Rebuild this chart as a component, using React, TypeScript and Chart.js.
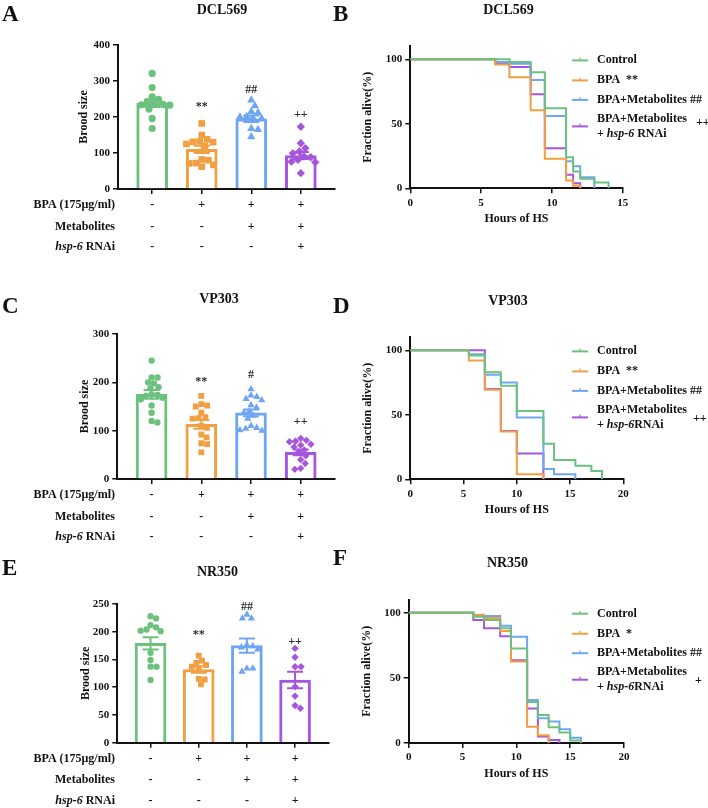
import React, { useEffect, useRef } from 'react';
import { Chart, registerables } from 'chart.js';
Chart.register(...registerables);

// ---------------- data ----------------
const GROUPS = ['Control', 'BPA', 'BPA+Metabolites', 'BPA+Metabolites+hsp-6 RNAi'];

// Panel A – DCL569 brood size
const A_CONTROL = [321, 282, 256, 249, 243, 236, 235, 234, 233, 222, 196, 168];
const A_BPA = [182, 150, 138, 132, 131, 130, 125, 120, 82, 80, 72, 71, 67, 62];
const A_MET = [247, 231, 215, 212, 201, 200, 196, 196, 168, 165, 145];
const A_RNAI = [173, 127, 113, 104, 99, 90, 88, 81, 76, 74, 44];
const A_MEAN = [238, 110, 195, 93];
const A_SEM = [10, 10, 9, 10];
const A_SIG = ['', '**', '##', '++'];
const A_SIG_Y = [0, 229, 275, 205];
const A_Y_TICKS = { max: 400, step: 100 };

// Panel C – VP303 brood size
const C_CONTROL = [245, 210, 210, 200, 198, 190, 188, 175, 174, 172, 168, 165, 152, 137, 120, 117];
const C_BPA = [172, 155, 152, 150, 137, 128, 126, 125, 110, 106, 92, 86, 74, 72, 55];
const C_MET = [186, 173, 170, 166, 163, 153, 148, 141, 137, 131, 125, 110, 106, 104, 101, 100];
const C_RNAI = [84, 80, 78, 77, 72, 70, 66, 60, 56, 48, 40, 32, 22, 20];
const C_MEAN = [175, 113, 137, 55];
const C_SEM = [9, 9, 7, 6];
const C_SIG = ['', '**', '#', '++'];
const C_SIG_Y = [0, 201, 215, 119];
const C_Y_TICKS = { max: 300, step: 100 };

// Panel E – NR350 brood size
const E_CONTROL = [228, 224, 212, 208, 204, 202, 201, 162, 149, 137, 137, 113];
const E_BPA = [157, 148, 144, 140, 137, 134, 115, 114, 105];
const E_MET = [231, 224, 224, 176, 174, 172, 168, 134, 134, 128];
const E_RNAI = [170, 154, 137, 137, 101, 84, 67, 62];
const E_MEAN = [179, 132, 175, 113];
const E_SEM = [11, 6, 13, 15];
const E_SIG = ['', '**', '##', '++'];
const E_SIG_Y = [0, 194, 244, 182];
const E_Y_TICKS = { max: 250, step: 50 };

const TREATMENT_LABELS = ['BPA (175μg/ml)', 'Metabolites', '_hsp-6_ RNAi'];
const TREATMENT_SIGNS = [
  ['-', '+', '+', '+'],
  ['-', '-', '+', '+'],
  ['-', '-', '-', '+'],
];

// Panel B – DCL569 survival (hours, % alive)
const B_X_MAX = 15;
const B_CONTROL_T = [0, 7, 8.5, 9.5, 11, 11.5, 12, 13, 14];
const B_CONTROL_S = [100, 98, 90, 62, 24, 13, 7.5, 4.5, 0];
const B_BPA_T = [0, 6, 7, 8.5, 9.5, 11, 11.5, 12];
const B_BPA_S = [100, 96, 86, 60.5, 23, 6, 2, 0];
const B_MET_T = [0, 6, 7, 8.5, 9.5, 11, 11.5, 12, 13];
const B_MET_S = [100, 98, 96.5, 84, 56, 21, 17, 8.5, 0];
const B_RNAI_T = [0, 6, 7, 8.5, 9.5, 11, 11.5, 12];
const B_RNAI_S = [100, 97, 94, 73, 31, 10.5, 4, 0];
const B_LEGEND = ['Control', 'BPA  **', 'BPA+Metabolites ##', 'BPA+Metabolites|+ _hsp-6_ RNAi'];
const B_LEGEND_SIG = '++';

// Panel D – VP303 survival
const D_X_MAX = 20;
const D_CONTROL_T = [0, 5.5, 7, 8.5, 10, 12.5, 13.5, 15.5, 17, 18];
const D_CONTROL_S = [100, 96, 83, 72.5, 53, 27.5, 15, 10.5, 6.5, 0];
const D_BPA_T = [0, 5.5, 7, 8.5, 10, 12.5];
const D_BPA_S = [100, 92, 69.5, 37, 4, 0];
const D_MET_T = [0, 5.5, 7, 8.5, 10, 12.5, 13.5, 15.5];
const D_MET_S = [100, 97, 81, 75, 48, 8, 4, 0];
const D_RNAI_T = [0, 7, 8.5, 10, 12.5];
const D_RNAI_S = [100, 70, 37.5, 20, 0];
const D_LEGEND = ['Control', 'BPA  **', 'BPA+Metabolites ##', 'BPA+Metabolites|+ _hsp-6_RNAi'];
const D_LEGEND_SIG = '++';

// Panel F – NR350 survival
const F_X_MAX = 20;
const F_CONTROL_T = [0, 6, 7, 8.5, 9.5, 11, 12, 13, 14, 15, 16];
const F_CONTROL_S = [100, 97, 94.5, 88, 72.5, 31.5, 21.5, 12, 8, 2, 0];
const F_BPA_T = [0, 6, 7, 8.5, 9.5, 11, 12, 13];
const F_BPA_S = [100, 98.5, 96, 86, 62.5, 12.5, 6, 0];
const F_MET_T = [0, 6, 8.5, 9.5, 11, 12, 13, 14, 15, 16];
const F_MET_S = [100, 97.5, 90, 81.5, 33, 19, 16.5, 10.5, 4, 0];
const F_RNAI_T = [0, 6, 7, 8.5, 9.5, 11, 12, 13, 14];
const F_RNAI_S = [100, 94.5, 88, 82, 63.5, 26.5, 5, 2.3, 0];
const F_LEGEND = ['Control', 'BPA  *', 'BPA+Metabolites ##', 'BPA+Metabolites|+ _hsp-6_RNAi'];
const F_LEGEND_SIG = '+';

// ---------------- styles ----------------
const FONT = "'Liberation Serif', 'Times New Roman', Times, serif";
const INK = '#111111';
const COLORS = ['#6cc17e', '#f0a042', '#6fa6f3', '#a656dd'];
const POINT_STYLES = ['circle', 'rect', 'triangle', 'rectRot'];
const POINT_RADII = [3.6, 4.7, 4.8, 4.2];
const X_MIN = -0.69;
const X_MAX = 3.69;

type Rect = { x: number; y: number; w: number; h: number };
type Area = { l: number; t: number; r: number; b: number };
type Label = { text: string; x: number; y: number };

interface BarPanel {
  canvas: Rect; area: Area; yTitleX: number; letter: Label; title: Label;
  yMax: number; yStep: number; groups: number[][]; mean: number[]; sem: number[];
  sig: string[]; sigY: number[]; pointScale: number;
}
interface SurvPanel {
  canvas: Rect; area: Area; yTitleX: number; letter: Label; title: Label; xMax: number;
  curves: { t: number[]; s: number[] }[]; legend: string[]; legendSig: Label;
}

function beeswarm(values: number[], pxPerY: number, r: number): number[] {
  const idx = values.map((_, i) => i).sort((a, b) => values[b] - values[a]);
  const placed: { x: number; y: number }[] = [];
  const out = new Array(values.length).fill(0);
  const d = 2 * r;
  for (const i of idx) {
    const y = values[i] * pxPerY;
    const cands = [0];
    for (const p of placed) {
      const dy = Math.abs(p.y - y);
      if (dy < d) {
        const dx = Math.sqrt(d * d - dy * dy);
        cands.push(p.x + dx, p.x - dx);
      }
    }
    cands.sort((a, b) => Math.abs(a) - Math.abs(b));
    let chosen = 0;
    for (const c of cands) {
      if (placed.every((p) => (p.x - c) ** 2 + (p.y - y) ** 2 >= d * d - 0.01)) { chosen = c; break; }
    }
    placed.push({ x: chosen, y });
    out[i] = chosen;
  }
  return out;
}

function drawRich(ctx: CanvasRenderingContext2D, s: string, x: number, y: number, align: 'left' | 'right', size: number) {
  const segs = s.split('_').map((t, i) => ({ t, italic: i % 2 === 1 })).filter((g) => g.t.length > 0);
  const fontFor = (it: boolean) => `${it ? 'italic ' : ''}bold ${size}px ${FONT}`;
  let total = 0;
  for (const g of segs) { ctx.font = fontFor(g.italic); total += ctx.measureText(g.t).width; }
  let cx = align === 'right' ? x - total : x;
  ctx.textAlign = 'left';
  ctx.textBaseline = 'middle';
  for (const g of segs) { ctx.font = fontFor(g.italic); ctx.fillText(g.t, cx, y); cx += ctx.measureText(g.t).width; }
}

function drawHeader(ctx: CanvasRenderingContext2D, c: Rect, letter: Label, title: Label) {
  ctx.fillStyle = INK;
  ctx.textBaseline = 'alphabetic';
  ctx.font = `bold 23px ${FONT}`;
  ctx.textAlign = 'left';
  ctx.fillText(letter.text, letter.x - c.x, letter.y - c.y);
  ctx.font = `bold 14px ${FONT}`;
  ctx.textAlign = 'center';
  ctx.fillText(title.text, title.x - c.x, title.y - c.y);
}

const tickFont = { family: FONT, size: 11, weight: 'bold' as const };
const titleFont = { family: FONT, size: 12, weight: 'bold' as const };

function buildBar(p: BarPanel): any {
  const c = p.canvas, a = p.area;
  const pxPerY = (a.b - a.t) / p.yMax;
  const pxPerX = (a.r - a.l) / (X_MAX - X_MIN);
  const yScaleLeft = p.yTitleX - 11.2;
  const yW = a.l - yScaleLeft;
  const X_H = 8;
  const padding = { left: yScaleLeft - c.x, top: a.t - c.y, right: c.x + c.w - a.r, bottom: c.y + c.h - a.b - X_H };
  const points = p.groups.map((vals, g) => {
    const offs = beeswarm(vals, pxPerY, 3.4 * p.pointScale);
    return {
      type: 'scatter', label: GROUPS[g], order: 0,
      data: vals.map((v, i) => ({ x: g + offs[i] / pxPerX, y: v })),
      pointStyle: POINT_STYLES[g], pointRadius: POINT_RADII[g] * p.pointScale,
      backgroundColor: COLORS[g], borderColor: COLORS[g], pointBorderWidth: 0, borderWidth: 0,
    };
  });
  const bars = {
    type: 'bar', label: 'mean', order: 1,
    data: p.mean.map((m, g) => ({ x: g, y: m })),
    backgroundColor: '#ffffff', borderColor: COLORS, borderWidth: 3, barThickness: 31,
  };
  const deco = {
    id: 'barDeco',
    afterDatasetsDraw(chart: any) {
      const ctx = chart.ctx, xs = chart.scales.x, ys = chart.scales.y;
      ctx.save();
      ctx.lineWidth = 2;
      p.mean.forEach((m, g) => {
        const x = xs.getPixelForValue(g);
        const yt = ys.getPixelForValue(m + p.sem[g]);
        const yb = ys.getPixelForValue(m - p.sem[g]);
        ctx.strokeStyle = COLORS[g];
        ctx.beginPath();
        ctx.moveTo(x, yt); ctx.lineTo(x, yb);
        ctx.moveTo(x - 8, yt); ctx.lineTo(x + 8, yt);
        ctx.moveTo(x - 8, yb); ctx.lineTo(x + 8, yb);
        ctx.stroke();
      });
      ctx.restore();
    },
    afterDraw(chart: any) {
      const ctx = chart.ctx, xs = chart.scales.x, ys = chart.scales.y;
      ctx.save();
      drawHeader(ctx, c, p.letter, p.title);
      ctx.fillStyle = '#2a2a2a';
      ctx.font = `bold 12px ${FONT}`;
      ctx.textAlign = 'center';
      ctx.textBaseline = 'middle';
      p.sig.forEach((s, g) => { if (s) ctx.fillText(s, xs.getPixelForValue(g), ys.getPixelForValue(p.sigY[g])); });
      ctx.fillStyle = INK;
      const rowsY = [16, 37.5, 58];
      TREATMENT_LABELS.forEach((lab, r) => {
        const y = chart.chartArea.bottom + rowsY[r];
        drawRich(ctx, lab, 115 - c.x, y, 'right', 12);
        ctx.font = `bold 12px ${FONT}`;
        ctx.textAlign = 'center';
        TREATMENT_SIGNS[r].forEach((s, g) => ctx.fillText(s, xs.getPixelForValue(g), y));
      });
      ctx.restore();
    },
  };
  return {
    type: 'bar',
    data: { datasets: [...points, bars] },
    options: {
      responsive: false, animation: false, events: [],
      layout: { padding },
      plugins: { legend: { display: false }, tooltip: { enabled: false } },
      scales: {
        x: {
          type: 'linear', min: X_MIN, max: X_MAX, offset: false,
          afterFit: (s: any) => { s.height = X_H; },
          ticks: { display: false, stepSize: 1, includeBounds: false },
          grid: { offset: false, drawOnChartArea: false, drawTicks: true, tickLength: 5, color: INK, lineWidth: 1.5 },
          border: { color: INK, width: 2 },
        },
        y: {
          min: 0, max: p.yMax,
          afterFit: (s: any) => { s.width = yW; },
          ticks: { stepSize: p.yStep, font: tickFont, color: INK, padding: 3 },
          grid: { drawOnChartArea: false, drawTicks: true, tickLength: 5, color: INK, lineWidth: 1.5 },
          border: { color: INK, width: 2 },
          title: { display: true, text: 'Brood size', font: titleFont, color: INK, padding: { top: 4, bottom: 4 } },
        },
      },
    },
    plugins: [deco],
  };
}

const LEG_SAMPLE_X0 = 572;
const LEG_SAMPLE_X1 = 588;
const LEG_TEXT_X = 597;
const LEG_ROWS = [14, 34, 53.5, 80];

function buildSurv(p: SurvPanel): any {
  const c = p.canvas, a = p.area;
  const yScaleLeft = p.yTitleX - 11.2;
  const yW = a.l - yScaleLeft;
  const X_H = 42.2;
  const padding = { left: yScaleLeft - c.x, top: a.t - c.y, right: c.x + c.w - a.r, bottom: c.y + c.h - a.b - X_H };
  const datasets = p.curves.map((cv, g) => ({
    label: GROUPS[g],
    data: cv.t.map((t, i) => ({ x: t, y: cv.s[i] })),
    stepped: true, borderColor: COLORS[g], borderWidth: 2, pointRadius: 0, fill: false,
  }));
  const deco = {
    id: 'survDeco',
    afterDraw(chart: any) {
      const ctx = chart.ctx;
      ctx.save();
      drawHeader(ctx, c, p.letter, p.title);
      const top = chart.chartArea.top;
      p.legend.forEach((entry, g) => {
        const y = top + LEG_ROWS[g];
        ctx.strokeStyle = COLORS[g];
        ctx.lineWidth = 2;
        ctx.beginPath();
        ctx.moveTo(LEG_SAMPLE_X0 - c.x, y); ctx.lineTo(LEG_SAMPLE_X1 - c.x, y);
        ctx.stroke();
        ctx.lineWidth = 1.2;
        const mx = (LEG_SAMPLE_X0 + LEG_SAMPLE_X1) / 2 - c.x;
        ctx.beginPath(); ctx.moveTo(mx, y - 3); ctx.lineTo(mx, y); ctx.stroke();
        ctx.fillStyle = INK;
        const lines = entry.split('|');
        lines.forEach((ln, k) => {
          const ly = lines.length === 1 ? y : y + (k - (lines.length - 1) / 2) * 15;
          drawRich(ctx, ln, LEG_TEXT_X - c.x, ly, 'left', 12);
        });
      });
      ctx.font = `bold 12px ${FONT}`;
      ctx.textAlign = 'left';
      ctx.textBaseline = 'middle';
      ctx.fillStyle = INK;
      ctx.fillText(p.legendSig.text, p.legendSig.x - c.x, top + p.legendSig.y);
      ctx.restore();
    },
  };
  return {
    type: 'line',
    data: { datasets },
    options: {
      responsive: false, animation: false, events: [],
      layout: { padding },
      plugins: { legend: { display: false }, tooltip: { enabled: false } },
      scales: {
        x: {
          type: 'linear', min: 0, max: p.xMax,
          afterFit: (s: any) => { s.height = X_H; },
          ticks: { stepSize: 5, includeBounds: false, font: tickFont, color: INK, padding: 3 },
          grid: { drawOnChartArea: false, drawTicks: true, tickLength: 5, color: INK, lineWidth: 1.5 },
          border: { color: INK, width: 2 },
          title: { display: true, text: 'Hours of HS', font: titleFont, color: INK, padding: { top: 4, bottom: 4 } },
        },
        y: {
          type: 'linear', min: 0, max: 110,
          afterFit: (s: any) => { s.width = yW; },
          ticks: { stepSize: 50, includeBounds: false, font: tickFont, color: INK, padding: 3 },
          grid: { drawOnChartArea: false, drawTicks: true, tickLength: 5, color: INK, lineWidth: 1.5 },
          border: { color: INK, width: 2 },
          title: { display: true, text: 'Fraction alive(%)', font: titleFont, color: INK, padding: { top: 4, bottom: 4 } },
        },
      },
    },
    plugins: [deco],
  };
}

// ---------------- panels (layout) ----------------
const PANEL_A: BarPanel = {
  canvas: { x: 0, y: 0, w: 350, h: 268 }, area: { l: 118, t: 45, r: 335, b: 189 }, yTitleX: 84,
  letter: { text: 'A', x: 2, y: 21 }, title: { text: 'DCL569', x: 222, y: 13.5 },
  yMax: A_Y_TICKS.max, yStep: A_Y_TICKS.step, groups: [A_CONTROL, A_BPA, A_MET, A_RNAI],
  mean: A_MEAN, sem: A_SEM, sig: A_SIG, sigY: A_SIG_Y, pointScale: 1,
};
const PANEL_C: BarPanel = {
  canvas: { x: 0, y: 262, w: 350, h: 290 }, area: { l: 117.3, t: 334, r: 335, b: 479 }, yTitleX: 85,
  letter: { text: 'C', x: 2, y: 313 }, title: { text: 'VP303', x: 219, y: 303 },
  yMax: C_Y_TICKS.max, yStep: C_Y_TICKS.step, groups: [C_CONTROL, C_BPA, C_MET, C_RNAI],
  mean: C_MEAN, sem: C_SEM, sig: C_SIG, sigY: C_SIG_Y, pointScale: 0.88,
};
const PANEL_E: BarPanel = {
  canvas: { x: 0, y: 530, w: 350, h: 278 }, area: { l: 117.3, t: 604, r: 328.3, b: 742.7 }, yTitleX: 86,
  letter: { text: 'E', x: 2, y: 575 }, title: { text: 'NR350', x: 217.5, y: 576 },
  yMax: E_Y_TICKS.max, yStep: E_Y_TICKS.step, groups: [E_CONTROL, E_BPA, E_MET, E_RNAI],
  mean: E_MEAN, sem: E_SEM, sig: E_SIG, sigY: E_SIG_Y, pointScale: 0.88,
};
const PANEL_B: SurvPanel = {
  canvas: { x: 330, y: 0, w: 378, h: 262 }, area: { l: 410.3, t: 46.4, r: 622.7, b: 188.3 }, yTitleX: 368.3,
  letter: { text: 'B', x: 333, y: 21 }, title: { text: 'DCL569', x: 508.5, y: 13.5 }, xMax: B_X_MAX,
  curves: [{ t: B_CONTROL_T, s: B_CONTROL_S }, { t: B_BPA_T, s: B_BPA_S }, { t: B_MET_T, s: B_MET_S }, { t: B_RNAI_T, s: B_RNAI_S }],
  legend: B_LEGEND, legendSig: { text: B_LEGEND_SIG, x: 696, y: 77 },
};
const PANEL_D: SurvPanel = {
  canvas: { x: 330, y: 262, w: 378, h: 270 }, area: { l: 410.3, t: 337.4, r: 623.3, b: 479.3 }, yTitleX: 368.3,
  letter: { text: 'D', x: 333, y: 313 }, title: { text: 'VP303', x: 508, y: 305 }, xMax: D_X_MAX,
  curves: [{ t: D_CONTROL_T, s: D_CONTROL_S }, { t: D_BPA_T, s: D_BPA_S }, { t: D_MET_T, s: D_MET_S }, { t: D_RNAI_T, s: D_RNAI_S }],
  legend: D_LEGEND, legendSig: { text: D_LEGEND_SIG, x: 693, y: 82 },
};
const PANEL_F: SurvPanel = {
  canvas: { x: 330, y: 530, w: 378, h: 278 }, area: { l: 408.7, t: 599.7, r: 624, b: 743 }, yTitleX: 366.7,
  letter: { text: 'F', x: 333, y: 565 }, title: { text: 'NR350', x: 507.5, y: 566.7 }, xMax: F_X_MAX,
  curves: [{ t: F_CONTROL_T, s: F_CONTROL_S }, { t: F_BPA_T, s: F_BPA_S }, { t: F_MET_T, s: F_MET_S }, { t: F_RNAI_T, s: F_RNAI_S }],
  legend: F_LEGEND, legendSig: { text: F_LEGEND_SIG, x: 695, y: 81 },
};

function ChartCanvas({ rect, build }: { rect: Rect; build: () => any }) {
  const ref = useRef<HTMLCanvasElement>(null);
  useEffect(() => {
    const chart = new Chart(ref.current as HTMLCanvasElement, build());
    return () => chart.destroy();
  }, []);
  return (
    <canvas
      ref={ref}
      width={rect.w}
      height={rect.h}
      style={{ position: 'absolute', left: rect.x, top: rect.y, width: rect.w, height: rect.h }}
    />
  );
}

export default function App() {
  return (
    <div style={{ position: 'absolute', left: 0, top: 0, width: 708, height: 808, background: '#ffffff', overflow: 'hidden' }}>
      <ChartCanvas rect={PANEL_A.canvas} build={() => buildBar(PANEL_A)} />
      <ChartCanvas rect={PANEL_C.canvas} build={() => buildBar(PANEL_C)} />
      <ChartCanvas rect={PANEL_E.canvas} build={() => buildBar(PANEL_E)} />
      <ChartCanvas rect={PANEL_B.canvas} build={() => buildSurv(PANEL_B)} />
      <ChartCanvas rect={PANEL_D.canvas} build={() => buildSurv(PANEL_D)} />
      <ChartCanvas rect={PANEL_F.canvas} build={() => buildSurv(PANEL_F)} />
    </div>
  );
}
